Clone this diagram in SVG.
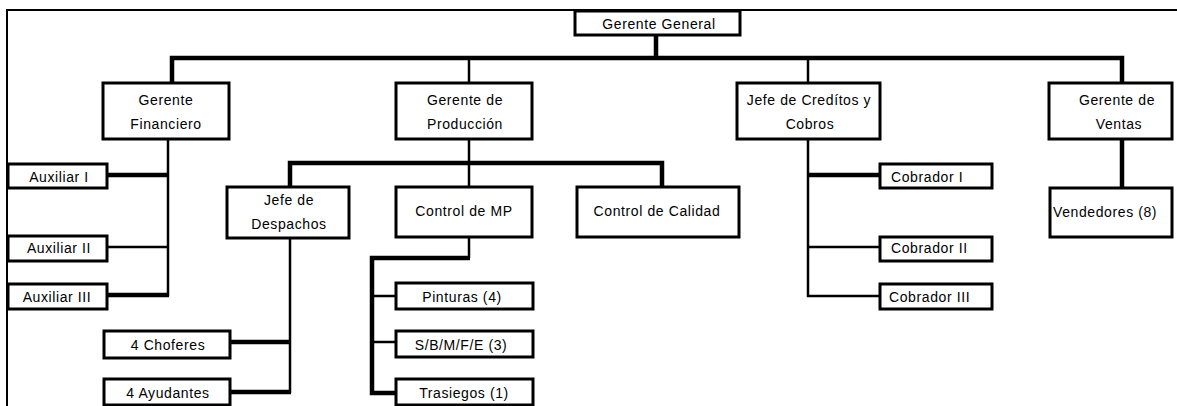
<svg xmlns="http://www.w3.org/2000/svg" width="1177" height="406" viewBox="0 0 1177 406">
  <style>
    .box { fill: #fff; stroke: #000; stroke-width: 3; }
    .lbl { font-family: "Liberation Sans", Arial, sans-serif; font-size: 14px; fill: #000; letter-spacing: 0.6px; text-anchor: middle; }
    .lft { text-anchor: start; }
    .thick { stroke: #000; stroke-width: 4.5; fill: none; stroke-linecap: butt; stroke-linejoin: miter; }
    .thin { stroke: #000; stroke-width: 2.5; fill: none; stroke-linecap: butt; stroke-linejoin: miter; }
    .frame { stroke: #000; stroke-width: 2; fill: none; }
  </style>
  <rect width="1177" height="406" fill="#fff"/>

  <!-- sheet border -->
  <path class="frame" d="M7 406 V10 H1177"/>

  <!-- connectors -->
  <g id="connectors">
    <path class="thick" d="M656 35 V58"/>
    <path class="thick" d="M172 83 V58 H1122 V83"/>
    <path class="thin" d="M469 58 V83"/>
    <path class="thin" d="M808 58 V83"/>

    <!-- finance -->
    <path class="thin" d="M168 139 V296.2"/>
    <path class="thick" d="M107 175 H169"/>
    <path class="thin" d="M107 247 H168"/>
    <path class="thick" d="M107 295 H169"/>

    <!-- production -->
    <path class="thin" d="M469 139 V187"/>
    <path class="thick" d="M290 187 V163 H662 V187"/>
    <path class="thin" d="M290 238 V393.2"/>
    <path class="thick" d="M230 342 H291"/>
    <path class="thick" d="M230 392 H291"/>
    <path class="thin" d="M469 237 V258"/>
    <path class="thick" d="M470 258 H372 V393 H395"/>
    <path class="thin" d="M372 296 H395"/>
    <path class="thin" d="M372 342 H395"/>

    <!-- credit -->
    <path class="thin" d="M808 139 V296 H880"/>
    <path class="thick" d="M807 175 H880"/>
    <path class="thin" d="M808 247 H880"/>

    <!-- sales -->
    <path class="thick" d="M1122 139 V188"/>
  </g>

  <g id="gerente-general">
    <rect class="box" x="575" y="11" width="165" height="24"/>
    <text class="lbl" x="659" y="29">Gerente General</text>
  </g>

  <g id="gerente-financiero">
    <rect class="box" x="103" y="83" width="126" height="56"/>
    <text class="lbl" x="166" y="105">Gerente</text>
    <text class="lbl" x="166" y="129">Financiero</text>
  </g>

  <g id="gerente-produccion">
    <rect class="box" x="396" y="83" width="136" height="56"/>
    <text class="lbl" x="465" y="105">Gerente de</text>
    <text class="lbl" x="465" y="129">Producción</text>
  </g>

  <g id="jefe-creditos">
    <rect class="box" x="737" y="83" width="143" height="56"/>
    <text class="lbl" x="809" y="105">Jefe de Credítos y</text>
    <text class="lbl" x="810" y="129">Cobros</text>
  </g>

  <g id="gerente-ventas">
    <rect class="box" x="1049" y="83" width="123" height="56"/>
    <text class="lbl" x="1117" y="105">Gerente de</text>
    <text class="lbl" x="1119" y="129">Ventas</text>
  </g>

  <g id="auxiliar-1">
    <rect class="box" x="8" y="164" width="99" height="24"/>
    <text class="lbl" x="59" y="182">Auxiliar I</text>
  </g>
  <g id="auxiliar-2">
    <rect class="box" x="8" y="236" width="99" height="25"/>
    <text class="lbl" x="59" y="253">Auxiliar II</text>
  </g>
  <g id="auxiliar-3">
    <rect class="box" x="8" y="284" width="99" height="25"/>
    <text class="lbl" x="57" y="302">Auxiliar III</text>
  </g>

  <g id="jefe-despachos">
    <rect class="box" x="227" y="187" width="122" height="51"/>
    <text class="lbl" x="289" y="205">Jefe de</text>
    <text class="lbl" x="289" y="229">Despachos</text>
  </g>

  <g id="control-mp">
    <rect class="box" x="396" y="187" width="136" height="50"/>
    <text class="lbl" x="464" y="216">Control de MP</text>
  </g>

  <g id="control-calidad">
    <rect class="box" x="577" y="187" width="162" height="50"/>
    <text class="lbl" x="657" y="216">Control de Calidad</text>
  </g>

  <g id="choferes">
    <rect class="box" x="104" y="331" width="126" height="27"/>
    <text class="lbl" x="168" y="350">4 Choferes</text>
  </g>
  <g id="ayudantes">
    <rect class="box" x="104" y="379" width="126" height="26"/>
    <text class="lbl" x="168" y="398">4 Ayudantes</text>
  </g>

  <g id="pinturas">
    <rect class="box" x="396" y="283" width="137" height="26"/>
    <text class="lbl" x="462" y="302">Pinturas (4)</text>
  </g>
  <g id="sbmfe">
    <rect class="box" x="396" y="331" width="137" height="26"/>
    <text class="lbl" x="461" y="350">S/B/M/F/E (3)</text>
  </g>
  <g id="trasiegos">
    <rect class="box" x="396" y="379" width="137" height="26"/>
    <text class="lbl" x="464" y="398">Trasiegos (1)</text>
  </g>

  <g id="cobrador-1">
    <rect class="box" x="880" y="164" width="112" height="24"/>
    <text class="lbl lft" x="891" y="182">Cobrador I</text>
  </g>
  <g id="cobrador-2">
    <rect class="box" x="880" y="237" width="112" height="24"/>
    <text class="lbl lft" x="891" y="253">Cobrador II</text>
  </g>
  <g id="cobrador-3">
    <rect class="box" x="880" y="284" width="112" height="25"/>
    <text class="lbl lft" x="889" y="302">Cobrador III</text>
  </g>

  <g id="vendedores">
    <rect class="box" x="1050" y="188" width="122" height="49"/>
    <text class="lbl lft" x="1053" y="217">Vendedores (8)</text>
  </g>
</svg>
